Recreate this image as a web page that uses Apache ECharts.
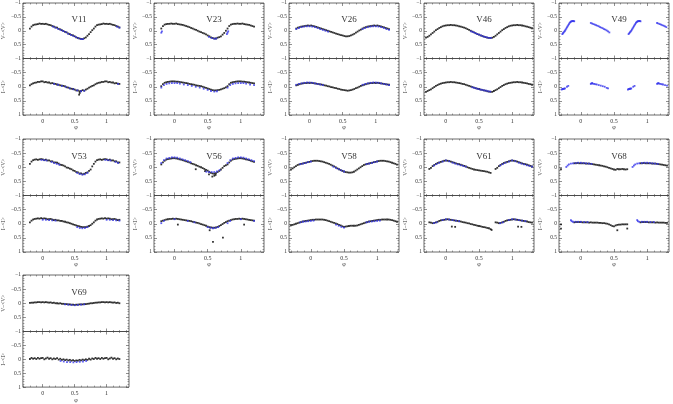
<!DOCTYPE html>
<html>
<head>
<meta charset="utf-8">
<script src="https://cdn.jsdelivr.net/npm/echarts@6/dist/echarts.min.js"></script>
<style>
  html, body { margin: 0; background: #fff; }
  #chart { width: 673px; height: 404px; }
</style>
</head>
<body>
<div id="chart"></div>
<script>
// phase grid of the folded light curves (black points), one cycle
const PHASE = [0, 0.025, 0.05, 0.075, 0.1, 0.125, 0.15, 0.175, 0.2, 0.225,
  0.25, 0.275, 0.3, 0.325, 0.35, 0.375, 0.4, 0.425, 0.45, 0.475,
  0.5, 0.525, 0.55, 0.575, 0.6, 0.625, 0.65, 0.675, 0.7, 0.725,
  0.75, 0.775, 0.8, 0.825, 0.85, 0.875, 0.9, 0.925, 0.95, 0.975];

const X_MAJOR = [0, 0.5, 1];
const X_MINOR = [-0.3, -0.2, -0.1, 0.1, 0.2, 0.3, 0.4, 0.6, 0.7, 0.8, 0.9, 1.1, 1.2, 1.3];

// V11
const V11_V = [-0.25,-0.24,-0.25,-0.23,-0.21,-0.20,-0.17,-0.15,-0.12,-0.11,-0.07,-0.05,-0.02,0.01,0.04,0.06,0.10,0.12,0.15,0.17,0.20,0.24,0.26,0.28,0.29,0.30,0.27,0.24,0.18,0.12,0.05,-0.02,-0.08,-0.15,-0.20,-0.22,-0.23,-0.24,-0.26,-0.25];
const V11_I = [-0.19,-0.16,-0.17,-0.15,-0.15,-0.12,-0.13,-0.11,-0.10,-0.08,-0.07,-0.05,-0.04,-0.03,-0.01,0.02,0.03,0.06,0.07,0.08,0.10,0.13,0.13,0.16,0.15,0.12,0.14,0.10,0.07,0.03,0.00,-0.03,-0.05,-0.09,-0.12,-0.14,-0.15,-0.17,-0.17,-0.19];
const V11_VB = [[0.16,-0.15],[0.2,-0.11],[0.24,-0.07],[0.28,-0.03],[0.32,0.01],[0.36,0.05],[0.4,0.11],[0.44,0.15],[0.48,0.19],[0.52,0.23],[0.56,0.27],[0.6,0.3],[0.63,0.3]];
const V11_IB = [[0.18,-0.1],[0.24,-0.07],[0.3,-0.03],[0.36,0.0],[0.42,0.05],[0.48,0.09],[0.54,0.13],[0.6,0.16],[0.65,0.14]];
const V11_IO = [[0.57,0.28],[0.58,0.22]];

// V23
const V23_V = [-0.25,-0.26,-0.24,-0.23,-0.22,-0.21,-0.19,-0.17,-0.15,-0.13,-0.10,-0.08,-0.05,-0.03,0.00,0.03,0.05,0.08,0.10,0.13,0.17,0.20,0.24,0.26,0.28,0.28,0.25,0.23,0.20,0.14,0.08,0.00,-0.08,-0.17,-0.22,-0.24,-0.25,-0.25,-0.26,-0.25];
const V23_I = [-0.19,-0.18,-0.18,-0.17,-0.16,-0.15,-0.14,-0.13,-0.12,-0.10,-0.09,-0.08,-0.07,-0.05,-0.04,-0.03,-0.02,0.00,0.02,0.04,0.06,0.08,0.10,0.12,0.13,0.13,0.12,0.11,0.09,0.07,0.05,0.02,-0.02,-0.09,-0.14,-0.16,-0.17,-0.18,-0.19,-0.19];
const V23_VB = [[0.79,0.12],[0.8,0.07],[0.81,0.02],[0.52,0.22],[0.56,0.26],[0.6,0.29],[0.63,0.28]];
const V23_IB = [[0.8,0.03],[0.84,-0.06],[0.88,-0.1],[0.92,-0.12],[0.96,-0.13],[0.0,-0.13],[0.04,-0.13],[0.08,-0.11],[0.14,-0.08],[0.2,-0.06],[0.26,-0.03],[0.32,0.0],[0.38,0.03],[0.44,0.07],[0.5,0.11],[0.55,0.15],[0.6,0.17],[0.64,0.16]];

// V26
const V26_V = [-0.18,-0.19,-0.17,-0.16,-0.14,-0.12,-0.10,-0.08,-0.06,-0.04,-0.02,0.00,0.02,0.04,0.06,0.08,0.10,0.12,0.14,0.16,0.17,0.19,0.20,0.20,0.19,0.17,0.14,0.11,0.07,0.03,-0.01,-0.04,-0.08,-0.11,-0.13,-0.15,-0.16,-0.17,-0.18,-0.19];
const V26_I = [-0.13,-0.14,-0.13,-0.12,-0.11,-0.10,-0.09,-0.08,-0.07,-0.05,-0.04,-0.02,-0.01,0.01,0.02,0.04,0.05,0.07,0.08,0.10,0.11,0.12,0.13,0.14,0.13,0.12,0.10,0.08,0.05,0.03,0.00,-0.03,-0.05,-0.07,-0.09,-0.11,-0.12,-0.13,-0.13,-0.14];
const V26_VB = [[0.8,-0.06],[0.84,-0.1],[0.88,-0.13],[0.92,-0.15],[0.96,-0.16],[0.0,-0.16],[0.04,-0.15],[0.08,-0.13],[0.12,-0.1],[0.16,-0.06],[0.2,-0.03],[0.24,0.0],[0.28,0.03]];
const V26_IB = [[0.8,-0.07],[0.84,-0.1],[0.88,-0.12],[0.92,-0.14],[0.96,-0.15],[0.0,-0.15],[0.04,-0.14],[0.08,-0.12],[0.12,-0.1],[0.16,-0.08],[0.2,-0.06]];

// V46
const V46_V = [-0.19,-0.20,-0.20,-0.21,-0.20,-0.20,-0.19,-0.18,-0.16,-0.15,-0.13,-0.11,-0.09,-0.06,-0.03,0.00,0.03,0.06,0.09,0.12,0.14,0.17,0.19,0.21,0.23,0.25,0.26,0.26,0.25,0.22,0.18,0.13,0.08,0.03,-0.02,-0.06,-0.10,-0.13,-0.16,-0.18];
const V46_I = [-0.15,-0.16,-0.16,-0.17,-0.16,-0.16,-0.15,-0.14,-0.13,-0.12,-0.10,-0.09,-0.07,-0.05,-0.03,-0.01,0.01,0.03,0.05,0.07,0.08,0.10,0.11,0.13,0.14,0.16,0.17,0.18,0.18,0.15,0.12,0.09,0.05,0.01,-0.03,-0.06,-0.09,-0.11,-0.13,-0.14];
const V46_VB = [[0.38,0.02],[0.41,0.05],[0.44,0.08],[0.47,0.11],[0.5,0.14],[0.53,0.17],[0.56,0.2],[0.59,0.22],[0.62,0.24],[0.65,0.26],[0.68,0.26]];
const V46_IB = [[0.4,0.02],[0.43,0.04],[0.46,0.06],[0.49,0.08],[0.52,0.1],[0.55,0.11],[0.58,0.13],[0.61,0.14],[0.64,0.16],[0.67,0.17]];

// V49 (blue points only)
const V49_VB = [[0.72,0.12],[0.73,0.09],[0.74,0.06],[0.75,0.03],[0.76,0.0],[0.77,-0.04],[0.78,-0.08],[0.79,-0.12],[0.8,-0.16],[0.81,-0.2],[0.82,-0.24],[0.83,-0.28],[0.84,-0.31],[0.85,-0.33],[0.86,-0.34],[0.87,-0.35],[0.88,-0.35],[0.89,-0.35],[0.9,-0.34],
  [0.15,-0.28],[0.17,-0.26],[0.19,-0.24],[0.21,-0.22],[0.23,-0.2],[0.25,-0.18],[0.27,-0.16],[0.29,-0.13],[0.31,-0.11],[0.33,-0.09],[0.35,-0.06],[0.37,-0.04],[0.39,-0.01],[0.41,0.02],[0.43,0.06]];
const V49_IB = [[0.71,0.1],[0.72,0.08],[0.73,0.08],[0.74,0.07],[0.75,0.07],[0.76,0.06],[0.79,0.0],[0.81,-0.03],
  [0.15,-0.1],[0.16,-0.12],[0.17,-0.13],[0.18,-0.11],[0.2,-0.1],[0.22,-0.09],[0.24,-0.08],[0.27,-0.06],[0.3,-0.04],[0.33,-0.02],[0.36,0.0],[0.39,0.04],[0.41,0.06]];

// V53
const V53_V = [-0.28,-0.25,-0.27,-0.24,-0.24,-0.21,-0.21,-0.17,-0.17,-0.16,-0.13,-0.09,-0.08,-0.06,-0.03,0.01,0.02,0.05,0.07,0.11,0.13,0.17,0.18,0.22,0.22,0.25,0.23,0.20,0.18,0.13,0.08,-0.03,-0.12,-0.20,-0.25,-0.27,-0.28,-0.26,-0.28,-0.29];
const V53_I = [-0.18,-0.19,-0.18,-0.16,-0.16,-0.17,-0.15,-0.13,-0.14,-0.12,-0.12,-0.10,-0.10,-0.08,-0.07,-0.05,-0.04,-0.02,0.00,0.02,0.04,0.06,0.08,0.09,0.11,0.12,0.12,0.12,0.10,0.08,0.05,0.00,-0.05,-0.11,-0.15,-0.17,-0.18,-0.19,-0.18,-0.20];
const V53_VB = [[0.14,-0.19],[0.18,-0.15],[0.22,-0.12],[0.26,-0.09],[0.54,0.2],[0.58,0.24],[0.62,0.26],[0.66,0.25],[0.7,0.2],[0.98,-0.26],[0.02,-0.25],[0.06,-0.24]];
const V53_IB = [[0.0,-0.14],[0.05,-0.14],[0.1,-0.13],[0.15,-0.12],[0.2,-0.11],[0.54,0.12],[0.58,0.15],[0.62,0.16],[0.66,0.15],[0.7,0.12]];

// V56
const V56_V = [-0.32,-0.31,-0.30,-0.28,-0.27,-0.25,-0.23,-0.21,-0.19,-0.17,-0.14,-0.12,-0.10,-0.07,-0.05,-0.02,0.00,0.03,0.06,0.09,0.12,0.16,0.20,0.22,0.23,0.21,0.17,0.13,0.08,0.02,-0.04,-0.07,-0.10,-0.17,-0.23,-0.27,-0.29,-0.30,-0.31,-0.32];
const V56_I = [-0.17,-0.18,-0.17,-0.16,-0.15,-0.14,-0.13,-0.12,-0.11,-0.10,-0.09,-0.07,-0.06,-0.04,-0.03,-0.01,0.01,0.03,0.05,0.07,0.10,0.12,0.13,0.14,0.14,0.13,0.11,0.08,0.05,0.01,-0.03,-0.06,-0.09,-0.11,-0.13,-0.15,-0.16,-0.17,-0.17,-0.18];
const V56_VB = [[0.96,-0.35],[0.0,-0.35],[0.04,-0.34],[0.08,-0.31],[0.12,-0.28],[0.16,-0.25],[0.2,-0.22],[0.24,-0.18],[0.48,0.16],[0.52,0.17],[0.56,0.17],[0.6,0.17],[0.64,0.15],[0.68,0.1],[0.8,-0.15],[0.84,-0.25],[0.88,-0.31],[0.92,-0.33]];
const V56_IB = [[0.8,-0.02],[0.84,-0.1],[0.0,-0.16],[0.2,-0.1],[0.3,-0.05],[0.5,0.12],[0.54,0.15],[0.58,0.16],[0.62,0.15],[0.66,0.12]];
const V56_VO = [[0.52,0.25],[0.57,0.33],[0.6,0.3],[0.62,0.27],[0.32,0.07],[0.46,0.14]];
const V56_IO = [[0.53,0.23],[0.58,0.64],[0.73,0.49],[0.05,0.03]];

// V58
const V58_V = [-0.21,-0.22,-0.23,-0.23,-0.23,-0.22,-0.21,-0.20,-0.18,-0.16,-0.14,-0.12,-0.09,-0.06,-0.03,0.00,0.04,0.07,0.10,0.13,0.15,0.17,0.18,0.19,0.19,0.18,0.16,0.12,0.08,0.04,0.00,-0.04,-0.08,-0.10,-0.12,-0.13,-0.15,-0.16,-0.18,-0.19];
const V58_I = [-0.13,-0.14,-0.14,-0.15,-0.15,-0.15,-0.15,-0.15,-0.14,-0.13,-0.11,-0.09,-0.07,-0.05,-0.03,-0.01,0.01,0.04,0.06,0.09,0.11,0.10,0.09,0.08,0.07,0.07,0.07,0.07,0.06,0.04,0.02,0.00,-0.02,-0.04,-0.06,-0.08,-0.09,-0.10,-0.11,-0.12];
const V58_VB = [[0.84,-0.11],[0.88,-0.13],[0.92,-0.15],[0.96,-0.18],[0.0,-0.2],[0.34,-0.02],[0.38,0.03],[0.42,0.07],[0.46,0.11],[0.5,0.15]];
const V58_IB = [[0.84,-0.05],[0.88,-0.07],[0.92,-0.08],[0.96,-0.09],[0.0,-0.1],[0.04,-0.11],[0.38,0.03],[0.42,0.07],[0.46,0.11],[0.5,0.14]];

// V61
const V61_V = [-0.24,-0.23,-0.22,-0.20,-0.18,-0.16,-0.14,-0.12,-0.11,-0.09,-0.07,-0.05,-0.03,0.00,0.02,0.04,0.06,0.08,0.09,0.10,0.11,0.12,0.13,0.14,0.15,0.16,0.18,0.20,null,null,0.06,0.02,-0.04,-0.08,-0.12,-0.15,-0.17,-0.19,-0.21,-0.23];
const V61_I = [-0.15,-0.16,-0.15,-0.14,-0.13,-0.12,-0.11,-0.10,-0.09,-0.08,-0.06,-0.05,-0.04,-0.02,-0.01,0.01,0.02,0.04,0.05,0.07,0.08,0.09,0.11,0.12,0.13,0.15,0.16,0.19,null,null,-0.05,-0.04,-0.02,-0.03,-0.05,-0.07,-0.10,-0.12,-0.13,-0.14];
const V61_VB = [[0.82,-0.06],[0.86,-0.11],[0.9,-0.16],[0.95,-0.2],[0.0,-0.24],[0.05,-0.21],[0.1,-0.16],[0.14,-0.13],[0.18,-0.1],[0.22,-0.07],[0.26,-0.05],[0.3,-0.02]];
const V61_IB = [[0.82,-0.02],[0.86,-0.05],[0.95,-0.13],[0.0,-0.16],[0.05,-0.15],[0.1,-0.13],[0.15,-0.11],[0.2,-0.09]];
const V61_IO = [[0.14,0.11],[0.69,0.22],[0.09,0.1]];

// V68
const V68_V = [-0.14,-0.14,-0.14,-0.13,-0.13,-0.13,-0.12,-0.11,-0.10,-0.09,-0.08,-0.07,-0.06,-0.05,-0.03,-0.02,0.00,0.02,0.04,0.06,0.08,0.09,0.06,0.07,0.07,0.06,0.07,0.08,0.07,null,null,null,null,null,null,null,-0.14,-0.14,-0.15,-0.14];
const V68_I = [-0.06,-0.05,-0.05,-0.05,-0.05,-0.04,-0.05,-0.04,-0.04,-0.04,-0.04,-0.03,-0.03,-0.02,-0.02,-0.01,0.00,0.02,0.05,0.08,0.09,0.06,0.04,0.03,0.03,0.02,0.02,0.02,0.02,null,null,null,null,null,null,null,-0.05,-0.06,-0.06,-0.06];
const V68_VB = [[0.78,-0.01],[0.8,-0.06],[0.82,-0.1],[0.85,-0.13],[0.88,-0.14],[0.92,-0.15],[0.96,-0.16],[0.0,-0.16],[0.04,-0.15],[0.08,-0.14],[0.12,-0.13],[0.16,-0.12]];
const V68_IB = [[0.85,-0.13],[0.86,-0.09],[0.88,-0.07],[0.92,-0.07],[0.96,-0.07],[0.0,-0.07],[0.05,-0.06],[0.1,-0.06]];
const V68_IO = [[0.55,0.23],[0.7,0.17]];

// V69
const V69_V = [-0.04,-0.03,-0.04,-0.03,-0.02,-0.03,-0.01,-0.02,0.00,0.00,0.01,0.00,0.02,0.02,0.03,0.03,0.04,0.04,0.05,0.05,0.06,0.05,0.05,0.04,0.04,0.04,0.03,0.03,0.02,0.01,0.00,0.00,-0.01,-0.02,-0.02,-0.03,-0.03,-0.04,-0.04,-0.03];
const V69_I = [-0.05,0.00,-0.03,-0.06,-0.02,-0.04,0.00,-0.03,-0.01,-0.04,0.01,-0.02,0.02,0.00,0.03,0.01,0.04,0.02,0.05,0.03,0.06,0.04,0.05,0.02,0.04,0.01,0.03,0.00,0.02,-0.02,0.01,-0.03,-0.01,-0.05,-0.02,-0.04,-0.01,-0.05,-0.02,-0.04];
const V69_VB = [[0.35,0.04],[0.4,0.05],[0.45,0.06],[0.5,0.07],[0.55,0.06],[0.6,0.05],[0.65,0.04]];
const V69_IB = [[0.28,0.06],[0.33,0.08],[0.38,0.1],[0.43,0.1],[0.48,0.11],[0.53,0.1],[0.58,0.09],[0.63,0.08],[0.68,0.06]];

const STARS = [
  { name: "V11", v: V11_V, i: V11_I, vb: V11_VB, ib: V11_IB, io: V11_IO, span: [-0.2, 1.2] },
  { name: "V23", v: V23_V, i: V23_I, vb: V23_VB, ib: V23_IB, span: [-0.2, 1.2] },
  { name: "V26", v: V26_V, i: V26_I, vb: V26_VB, ib: V26_IB, span: [-0.2, 1.2] },
  { name: "V46", v: V46_V, i: V46_I, vb: V46_VB, ib: V46_IB, span: [-0.3, 1.3] },
  { name: "V49", v: null, i: null, vb: V49_VB, ib: V49_IB, span: [-0.3, 1.3] },
  { name: "V53", v: V53_V, i: V53_I, vb: V53_VB, ib: V53_IB, span: [-0.2, 1.2] },
  { name: "V56", v: V56_V, i: V56_I, vb: V56_VB, ib: V56_IB, vo: V56_VO, io: V56_IO, span: [-0.2, 1.2] },
  { name: "V58", v: V58_V, i: V58_I, vb: V58_VB, ib: V58_IB, span: [-0.3, 1.3] },
  { name: "V61", v: V61_V, i: V61_I, vb: V61_VB, ib: V61_IB, io: V61_IO, span: [-0.3, 1.3] },
  { name: "V68", v: V68_V, i: V68_I, vb: V68_VB, ib: V68_IB, io: V68_IO, span: [-0.3, 1.3] },
  { name: "V69", v: V69_V, i: V69_I, vb: V69_VB, ib: V69_IB, span: [-0.2, 1.2] },
];

// panel layout
const COL_LEFT = [19, 154, 289, 424, 559];
const ROW_TOP = [2, 139, 275];
const PW = 110;
const PH = 56.5;
const FRAME = "#444";
const FONT = "Liberation Serif";
const BLUE = "#3434ec";

// repeat each folded point one cycle before and after, keep what lies in span
function fold(values, extra, span) {
  const pts = [];
  const add = (p, v) => {
    [-1, 0, 1].forEach((k) => {
      const x = +(p + k).toFixed(3);
      if (x >= span[0] - 1e-6 && x <= span[1] + 1e-6) pts.push([x, v]);
    });
  };
  if (values) values.forEach((v, idx) => { if (v !== null) add(PHASE[idx], v); });
  (extra || []).forEach(([p, v]) => add(p, v));
  return pts;
}

const fmt = (v) => (v < 0 ? "\u2212" + Math.abs(v) : String(v));

const grid = [], xAxis = [], yAxis = [], series = [], title = [];

STARS.forEach((star, k) => {
  const left = COL_LEFT[k % 5];
  const top = ROW_TOP[Math.floor(k / 5)];
  const xr = star.span[0] < -0.25 ? [-0.33, 1.33] : [-0.31, 1.35];
  const minor = X_MINOR.filter((t) => t > xr[0] && t < xr[1]);

  title.push({
    text: star.name,
    left: left + PW / 2,
    top: top + 8,
    textAlign: "center",
    textStyle: { fontFamily: FONT, fontSize: 9, fontWeight: "normal", color: "#333" },
  });

  [0, 1].forEach((sub) => {
    const g = grid.length;
    const lower = sub === 1;
    grid.push({
      left: left, top: top + sub * PH, width: PW, height: PH,
      show: true, borderColor: FRAME, borderWidth: 0.8, backgroundColor: "transparent",
    });

    const xBase = {
      gridIndex: g, type: "value", min: xr[0], max: xr[1],
      splitLine: { show: false },
    };
    ["bottom", "top"].forEach((pos) => {
      const labels = lower && pos === "bottom";
      xAxis.push(Object.assign({}, xBase, {
        position: pos,
        name: labels ? "\u03c6" : "",
        nameLocation: "middle",
        nameGap: 9,
        nameTextStyle: { fontFamily: FONT, fontSize: 6, color: "#333" },
        axisLine: { show: false, onZero: false },
        axisTick: { show: true, inside: true, length: 3, customValues: X_MAJOR, lineStyle: { color: FRAME, width: 0.6 } },
        axisLabel: { show: labels, customValues: X_MAJOR, margin: 3, fontFamily: FONT, fontSize: 6, color: "#333", formatter: fmt },
      }));
      xAxis.push(Object.assign({}, xBase, {
        position: pos,
        axisLine: { show: false, onZero: false },
        axisTick: { show: true, inside: true, length: 1.5, customValues: minor, lineStyle: { color: FRAME, width: 0.5 } },
        axisLabel: { show: false },
      }));
    });

    ["left", "right"].forEach((pos) => {
      const labels = pos === "left";
      yAxis.push({
        gridIndex: g, type: "value", min: -1, max: 1, interval: 0.5, inverse: true,
        position: pos,
        name: labels ? (lower ? "I\u2212<I>" : "V\u2212<V>") : "",
        nameLocation: "middle",
        nameGap: 13,
        nameRotate: 90,
        nameTextStyle: { fontFamily: FONT, fontSize: 5.5, color: "#333" },
        splitLine: { show: false },
        axisLine: { show: false, onZero: false },
        axisTick: { show: true, inside: true, length: 3, lineStyle: { color: FRAME, width: 0.6 } },
        minorTick: { show: true, splitNumber: 5, length: 1.5, lineStyle: { color: FRAME, width: 0.5 } },
        axisLabel: {
          show: labels, margin: 2, fontFamily: FONT, fontSize: 5.5, color: "#333",
          showMaxLabel: lower, showMinLabel: true, formatter: fmt,
        },
      });
    });

    const xi = g * 4, yi = g * 2;
    const black = lower ? fold(star.i, star.io, star.span) : fold(star.v, star.vo, star.span);
    const blue = lower ? fold(null, star.ib, star.span) : fold(null, star.vb, star.span);
    series.push({
      type: "scatter", xAxisIndex: xi, yAxisIndex: yi, data: black,
      symbol: "rect", symbolSize: 1.8, itemStyle: { color: "#000" }, silent: true,
    });
    series.push({
      type: "scatter", xAxisIndex: xi, yAxisIndex: yi, data: blue,
      symbol: "rect", symbolSize: 1.8, itemStyle: { color: BLUE }, silent: true,
    });
  });
});

const chart = echarts.init(document.getElementById("chart"), null, { renderer: "canvas" });
chart.setOption({
  animation: false,
  backgroundColor: "#fff",
  title: title,
  grid: grid,
  xAxis: xAxis,
  yAxis: yAxis,
  series: series,
});
</script>
</body>
</html>
